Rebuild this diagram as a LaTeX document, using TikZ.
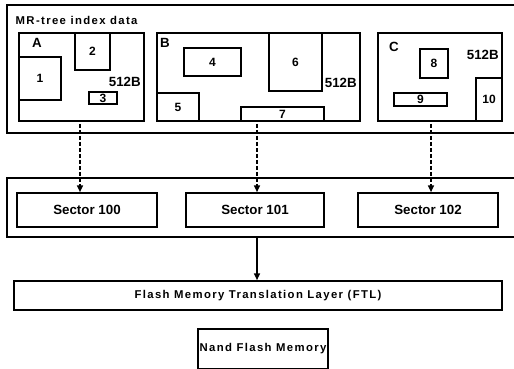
\documentclass[tikz,border=0pt]{standalone}
\usepackage{fontspec}
\setmainfont{Liberation Sans}
\usetikzlibrary{fit,arrows.meta}

\begin{document}
\begin{tikzpicture}[x=0.75pt, y=-0.75pt,
  cell/.style={draw, line width=1.3pt, inner sep=0pt},
  frame/.style={draw, line width=1pt, inner sep=0pt},
  tag/.style={inner sep=0pt, font=\bfseries\fontsize{10}{12}\selectfont},
  wide/.style={font=\bfseries\fontsize{8.5}{10}\selectfont\addfontfeature{LetterSpace=12}},
  num/.style={label={[font=\bfseries\fontsize{9}{10}\selectfont]center:#1}},
  sect/.style={label={[tag]center:#1}},
  band/.style={label={[wide]center:#1}},
  link/.style={line width=1pt, -{Triangle[length=5pt,width=4.5pt]}}]
  \useasboundingbox (0,0) rectangle (514,368);

  % frames, cut off at the right edge of the page
  \node[frame, fit={(7,5) (520,133)}] (index) {};
  \node[frame, line width=1.3pt, fit={(7,178) (520,237)}] (sectors) {};
  \node[wide, anchor=west] (title) at (11,20) {MR-tree index data};

  % page A
  \node[cell, fit={(19,33) (144,121)}] (A) {};
  \node[tag] (Aname) at (37,43) {A};
  \node[cell, num=1, fit={(19,57) (61,100)}] (r1) {};
  \node[cell, num=2, fit={(75,33) (110,70)}] (r2) {};
  \node[cell, num=3, fit={(89,92) (117,104)}] (r3) {};
  \node[tag, anchor=east] (Asize) at (141,82) {512B};

  % page B
  \node[cell, fit={(157,33) (360,121)}] (B) {};
  \node[tag] (Bname) at (165,43) {B};
  \node[cell, num=4, fit={(184,48) (241,76)}] (r4) {};
  \node[cell, num=5, fit={(157,93) (199,121)}] (r5) {};
  \node[cell, num=6, fit={(269,33) (322,91)}] (r6) {};
  \node[cell, num=7, fit={(241,107) (324,121)}] (r7) {};
  \node[tag, anchor=east] (Bsize) at (357,83) {512B};

  % page C
  \node[cell, fit={(378,33) (502,121)}] (C) {};
  \node[tag] (Cname) at (394,47) {C};
  \node[cell, num=8, fit={(420,49) (448,78)}] (r8) {};
  \node[cell, num=9, fit={(394,93) (447,106)}] (r9) {};
  \node[cell, num=10, fit={(476,78) (502,121)}] (r10) {};
  \node[tag, anchor=east] (Csize) at (499,55) {512B};

  % sectors
  \node[cell, sect=Sector 100, fit={(17,193) (157,227)}] (s100) {};
  \node[cell, sect=Sector 101, fit={(186,193) (324,227)}] (s101) {};
  \node[cell, sect=Sector 102, fit={(358,193) (498,227)}] (s102) {};

  \node[cell, band=Flash Memory Translation Layer (FTL), fit={(14,281) (502,310)}] (ftl) {};
  \node[cell, band=Nand Flash Memory, fit={(198,329) (328,369)}] (nand) {};

  \coordinate (d1) at (80,0);
  \coordinate (d2) at (257,0);
  \coordinate (d3) at (431,0);
  \draw[link, dashed, dash pattern=on 3pt off 1.5pt] ([yshift=-1.5pt]A.south -| d1) -- (s100.north -| d1);
  \draw[link, dashed, dash pattern=on 3pt off 1.5pt] ([yshift=-1.5pt]B.south -| d2) -- (s101.north -| d2);
  \draw[link, dashed, dash pattern=on 3pt off 1.5pt] ([yshift=-1.5pt]C.south -| d3) -- (s102.north -| d3);
  \draw[link] (sectors.south -| d2) -- (ftl.north -| d2);
\end{tikzpicture}
\end{document}
